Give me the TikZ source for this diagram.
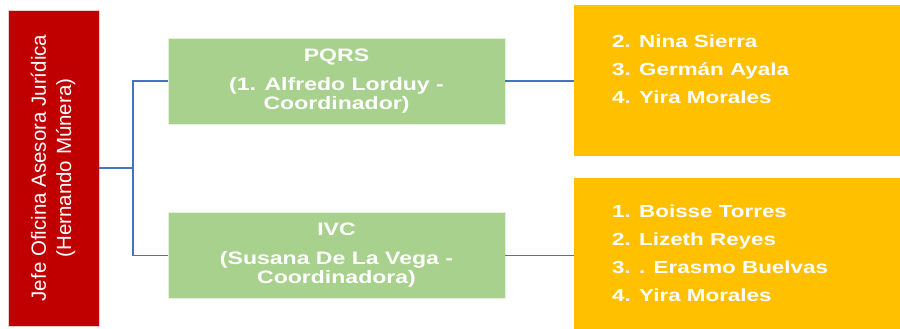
\documentclass[tikz,border=0pt]{standalone}
\usepackage{fontspec}
\setmainfont{Liberation Sans}
\newfontfamily\wideb[FakeStretch=1.28]{Liberation Sans Bold}
\definecolor{bossred}{HTML}{C00000}
\definecolor{teamgreen}{HTML}{A9D18E}
\definecolor{staffyellow}{HTML}{FFC000}
\definecolor{linkblue}{HTML}{4472C4}
\tikzset{
  redbox/.style={fill=bossred, draw=white!80!bossred, line width=0.8pt, minimum width=91pt, minimum height=316pt, inner sep=0pt, text=white},
  greenbox/.style={fill=teamgreen, draw=white!70!teamgreen, line width=0.8pt, minimum width=337pt, minimum height=86pt, inner sep=0pt, text=white, align=center, font=\wideb\fontsize{18}{19}\selectfont},
  yellowbox/.style={fill=staffyellow, draw=none, minimum width=326pt, minimum height=151pt, inner sep=0pt},
  listtext/.style={text=white, align=left, inner sep=0pt, anchor=north west, font=\wideb\fontsize{17.5}{28}\selectfont},
  conn/.style={draw=linkblue, line width=1.1pt}
}
\begin{document}
\begin{tikzpicture}[x=1pt,y=1pt]
\useasboundingbox (0,0) rectangle (900,329);
\node[redbox] (boss) at (53.5,161) {\rotatebox{90}{\fontsize{20.5}{25}\selectfont\begin{tabular}{@{}c@{}}Jefe Oficina Asesora Jurídica\\(Hernando Múnera)\end{tabular}}};
\node[greenbox] (pqrs) at (336.5,248) {PQRS\\[10pt](1. Alfredo Lorduy -\\Coordinador)};
\node[greenbox] (ivc) at (336.5,73.5) {IVC\\[10pt](Susana De La Vega -\\Coordinadora)};
\node[yellowbox] (team1) at (737,248.5) {};
\node[yellowbox] (team2) at (737,75.5) {};
\node[listtext] (list1) at (612,294.5) {2. Nina Sierra\\3. Germán Ayala\\4. Yira Morales};
\node[listtext] (list2) at (612,124.5) {1. Boisse Torres\\2. Lizeth Reyes\\3. . Erasmo Buelvas\\4. Yira Morales};
\coordinate (bus) at (133,161);
\draw[conn] (boss.east |- bus) -- (bus);
\draw[conn] (bus) |- (pqrs.west);
\draw[conn] (bus) |- (ivc.west);
\draw[conn] (pqrs.east) -- (pqrs.east -| team1.west);
\draw[conn] (ivc.east) -- (ivc.east -| team2.west);
\end{tikzpicture}
\end{document}
